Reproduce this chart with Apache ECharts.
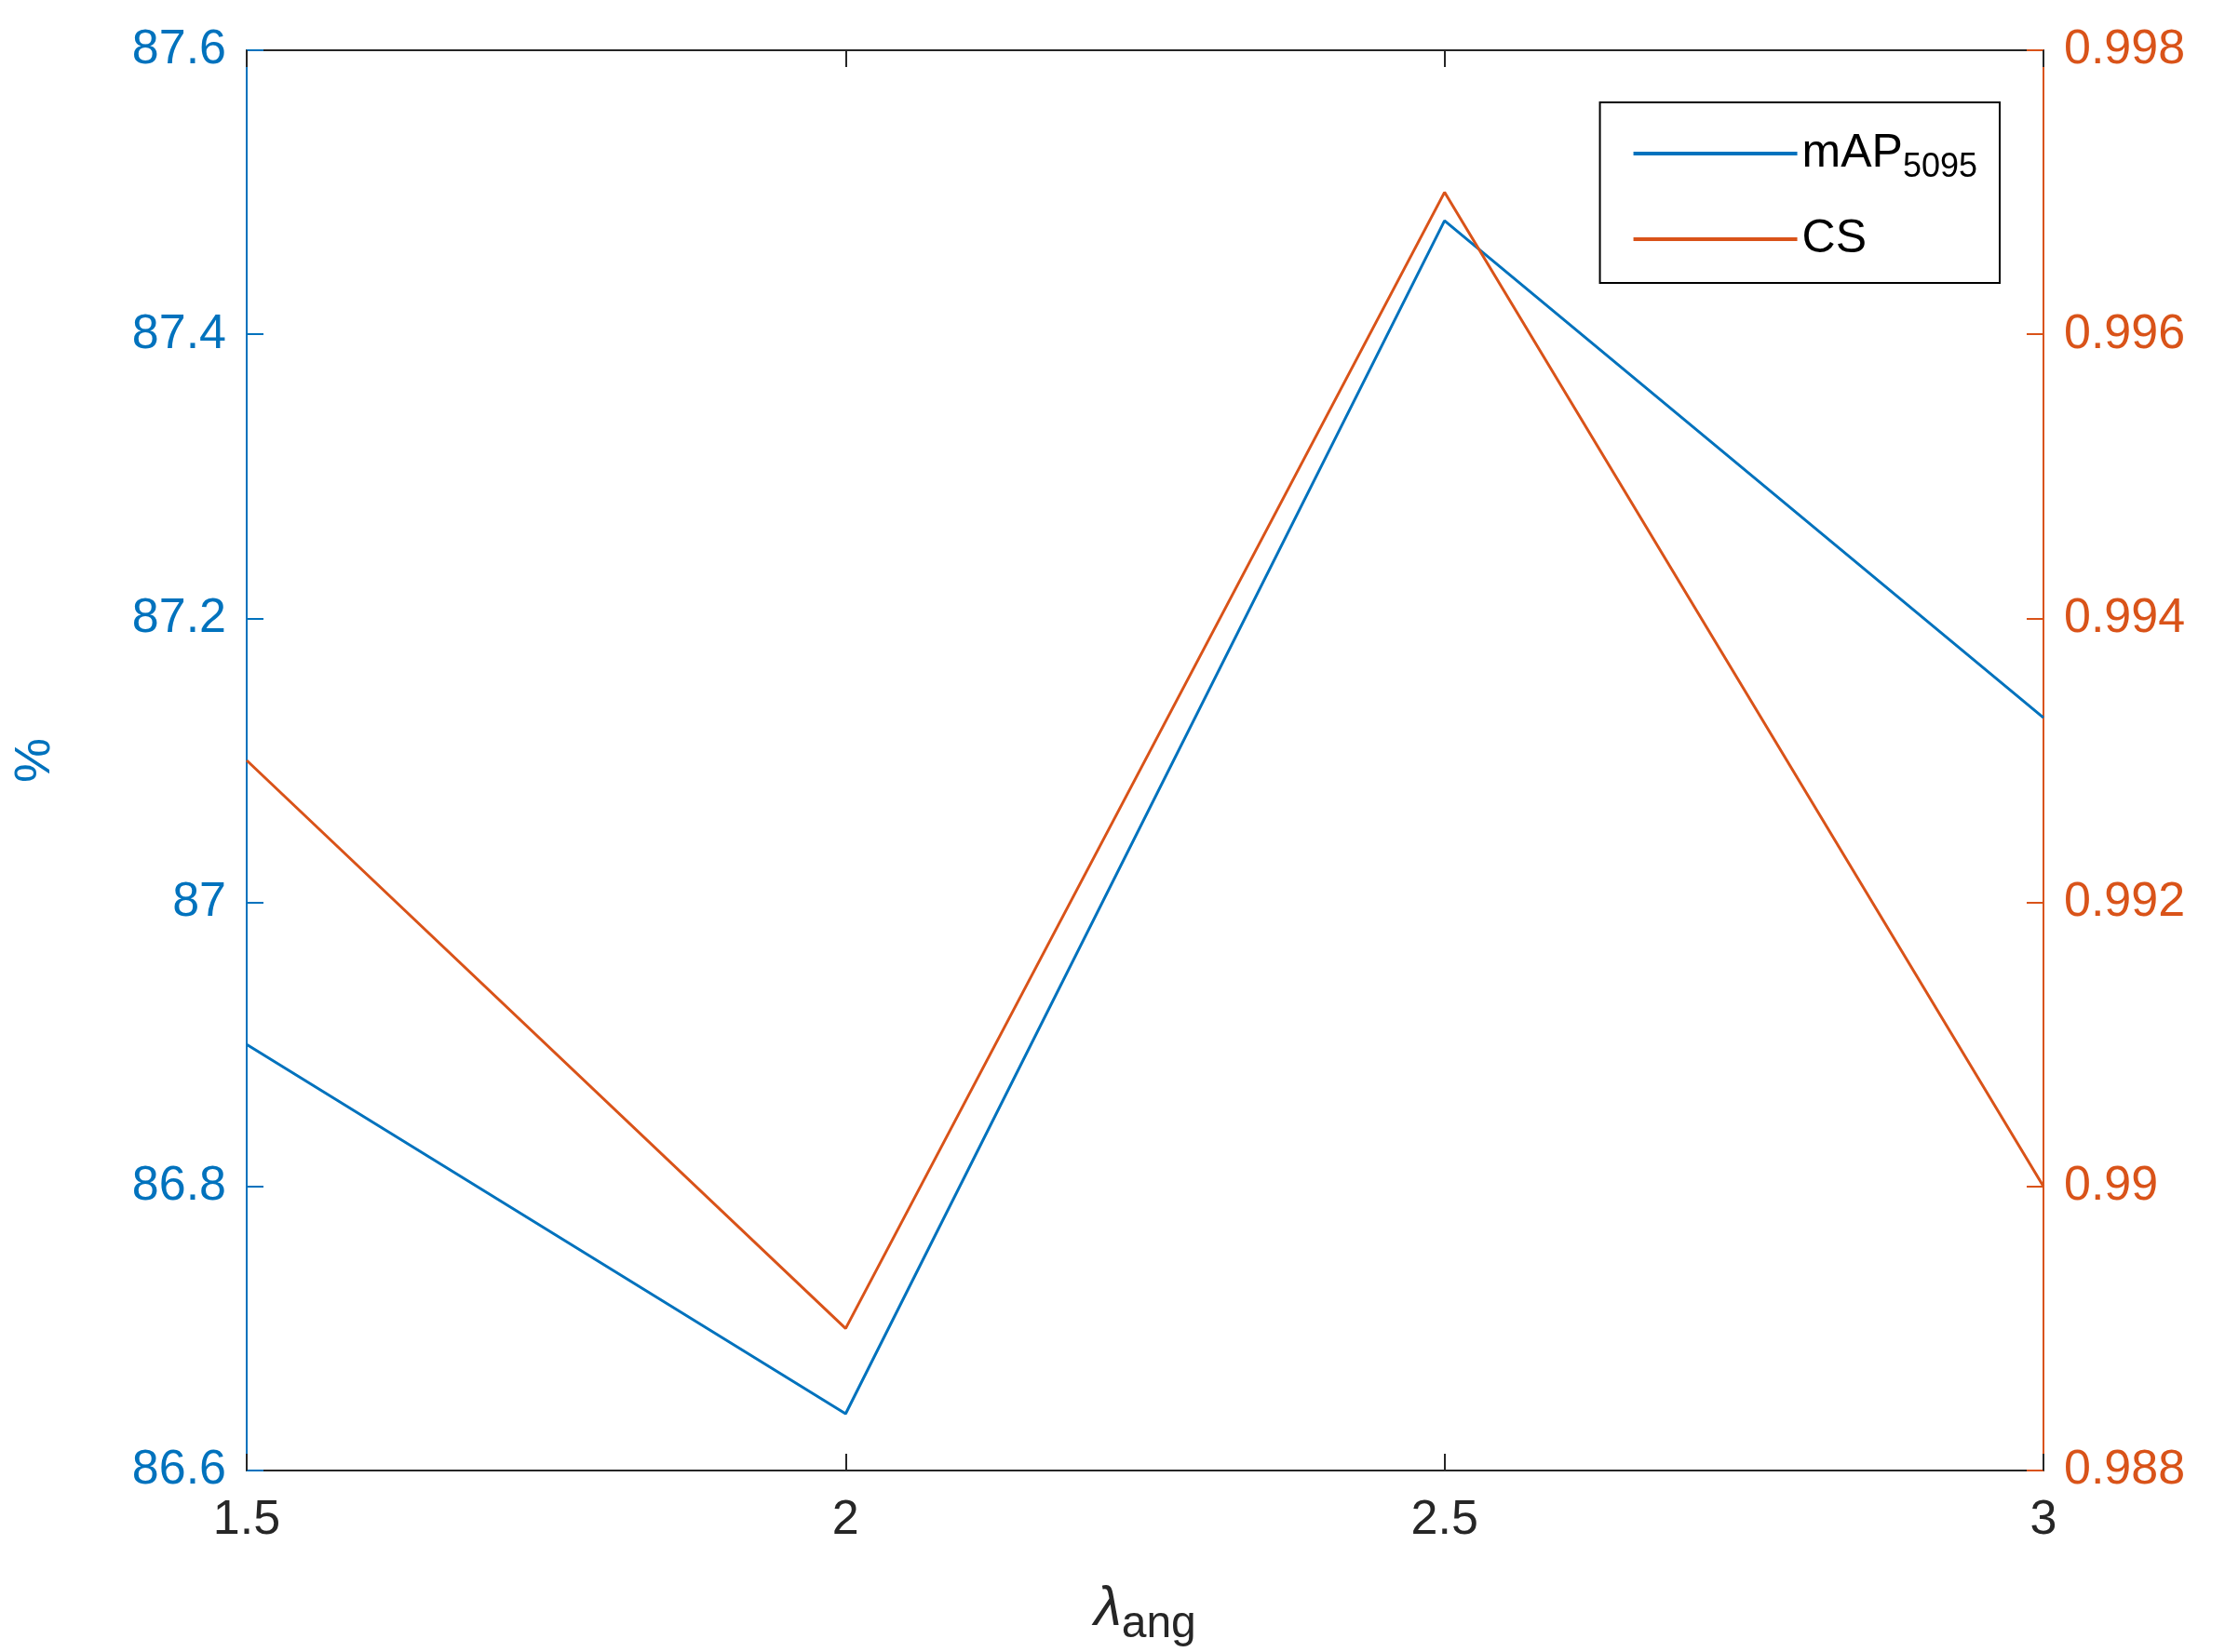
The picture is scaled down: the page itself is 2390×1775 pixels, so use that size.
<!DOCTYPE html>
<html>
<head>
<meta charset="utf-8">
<script src="https://cdn.jsdelivr.net/npm/echarts@6.0.0/dist/echarts.min.js"></script>
<style>html,body{margin:0;background:#fff}#main{width:2390px;height:1775px}</style>
</head>
<body>
<div id="main"></div>
<script>
const lambdas = [1.5, 2, 2.5, 3];
const mapValues = [86.9, 86.64, 87.48, 87.13];
const csValues = [0.993, 0.989, 0.997, 0.990];

const blue = '#0072BD', red = '#D95319';
const font = 'Arial, "Liberation Sans", sans-serif';
const chart = echarts.init(document.getElementById('main'));

chart.setOption({
  animation: false,
  grid: { left: 265, right: 195, top: 54, bottom: 185, show: false },
  legend: {
    right: 242, top: 110, orient: 'vertical',
    backgroundColor: '#fff', borderColor: '#000', borderWidth: 2,
    padding: [30, 24, 22, 36], itemGap: 34,
    itemWidth: 176, itemHeight: 4, icon: 'rect',
    textStyle: {
      fontSize: 50, fontFamily: font, color: '#000',
      rich: { sub: { fontSize: 36, fontFamily: font, padding: [30, 0, 0, 0] } }
    },
    formatter: n => n === 'mAP' ? 'mAP{sub|5095}' : n,
    data: ['mAP', 'CS']
  },
  xAxis: [{
    type: 'value', min: 1.5, max: 3, interval: 0.5,
    axisLine: { lineStyle: { color: '#262626', width: 2 } },
    axisTick: { inside: true, length: 18, lineStyle: { color: '#262626', width: 2 } },
    axisLabel: { fontSize: 52, fontFamily: font, color: '#262626', margin: 28 },
    splitLine: { show: false },
    name: '{l|λ}{s|ang}', nameLocation: 'middle', nameGap: 108,
    nameTextStyle: { fontSize: 56, fontFamily: font, color: '#262626',
      rich: {
        l: { fontSize: 60, fontStyle: 'italic', fontFamily: font, color: '#262626' },
        s: { fontSize: 48, fontFamily: font, color: '#262626', padding: [34, 0, 0, 0] }
      } }
  }, {
    type: 'value', position: 'top', min: 1.5, max: 3, interval: 0.5,
    axisLine: { show: true, lineStyle: { color: '#262626', width: 2 } },
    axisTick: { show: true, inside: true, length: 18, lineStyle: { color: '#262626', width: 2 } },
    axisLabel: { show: false }, splitLine: { show: false }
  }],
  yAxis: [{
    type: 'value', min: 86.6, max: 87.6, interval: 0.2,
    axisLine: { show: true, lineStyle: { color: blue, width: 2 } },
    axisTick: { show: true, inside: true, length: 18, lineStyle: { color: blue, width: 2 } },
    axisLabel: { fontSize: 52, fontFamily: font, color: blue, margin: 22,
      formatter: v => String(+v.toFixed(1)) },
    splitLine: { show: false },
    name: '%', nameLocation: 'middle', nameGap: 200, nameRotate: 90,
    nameTextStyle: { fontSize: 54, fontFamily: font, color: blue }
  }, {
    type: 'value', position: 'right', min: 0.988, max: 0.998, interval: 0.002,
    axisLine: { show: true, lineStyle: { color: red, width: 2 } },
    axisTick: { show: true, inside: true, length: 18, lineStyle: { color: red, width: 2 } },
    axisLabel: { fontSize: 52, fontFamily: font, color: red, margin: 22,
      formatter: v => String(+v.toFixed(3)) },
    splitLine: { show: false }
  }],
  series: [{
    name: 'mAP', type: 'line', yAxisIndex: 0, showSymbol: false,
    lineStyle: { color: blue, width: 3 }, itemStyle: { color: blue },
    data: lambdas.map((x, i) => [x, mapValues[i]])
  }, {
    name: 'CS', type: 'line', yAxisIndex: 1, showSymbol: false,
    lineStyle: { color: red, width: 3 }, itemStyle: { color: red },
    data: lambdas.map((x, i) => [x, csValues[i]])
  }]
});
</script>
</body>
</html>
